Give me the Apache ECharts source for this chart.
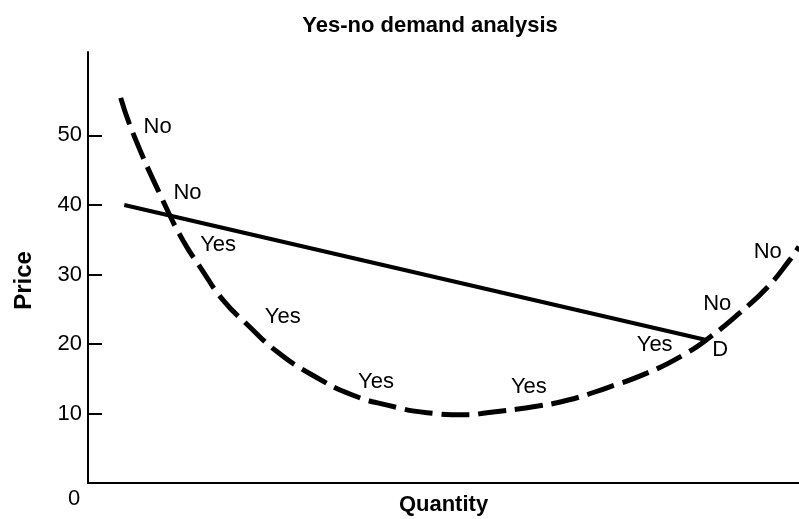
<!DOCTYPE html>
<html>
<head>
<meta charset="utf-8">
<script src="https://cdn.jsdelivr.net/npm/echarts@6/dist/echarts.min.js"></script>
<style>html,body{margin:0;padding:0;background:#fff;}#c{width:799px;height:519px;}</style>
</head>
<body>
<div id="c"></div>
<script>
var yTicks = [10, 20, 30, 40, 50];
// dashed demand curve (quantity, price)
var curveQ = [4.6, 6.3, 10.5, 13.4, 15.75, 19.0, 22.5, 26.7, 31.6, 37.1, 42.1, 47.7, 53.3, 56.1, 62.2, 67.4, 73.0, 78.6, 83.7, 87.5, 91.7, 95.6, 98.7, 100];
var curveP = [55.4, 50.4, 40.7, 34.8, 31.1, 26.3, 22.7, 18.8, 15.5, 12.7, 11.2, 10.1, 9.8, 10.1, 10.9, 11.9, 13.7, 15.8, 18.4, 21.0, 24.5, 28.2, 32.1, 34.0];
// solid line
var lineQ = [5.1, 86.8];
var lineP = [40.0, 20.6];
// annotations
var noteText = ['No', 'No', 'Yes', 'Yes', 'Yes', 'Yes', 'Yes', 'D', 'No', 'No'];
var noteQ = [9.8, 14.0, 18.3, 27.4, 40.5, 62.0, 79.7, 88.9, 88.5, 95.6];
var noteP = [51.2, 41.7, 34.2, 23.9, 14.5, 13.8, 19.9, 19.2, 25.8, 33.2];

var chart = echarts.init(document.getElementById('c'), null, {renderer: 'canvas'});
var font = 'Liberation Sans, Arial, Helvetica, sans-serif';
function pairs(a, b) { return a.map(function (v, i) { return [v, b[i]]; }); }

chart.setOption({
  animation: false,
  backgroundColor: '#fff',
  title: {
    text: 'Yes-no demand analysis',
    left: 425, top: 10, textAlign: 'center',
    textStyle: {fontFamily: font, fontSize: 22, fontWeight: 'bold', color: '#000'}
  },
  grid: {left: 88, right: 0, top: 52, bottom: 36, containLabel: false, outerBoundsMode: 'none'},
  xAxis: {
    type: 'value', min: 0, max: 100,
    name: 'Quantity', nameLocation: 'middle', nameGap: 11,
    nameTextStyle: {fontFamily: font, fontSize: 22, fontWeight: 'bold', color: '#000'},
    axisLine: {show: true, lineStyle: {color: '#000', width: 2}},
    axisTick: {show: false}, axisLabel: {show: false}, splitLine: {show: false}
  },
  yAxis: {
    type: 'value', min: 0, max: 62,
    name: 'Price', nameLocation: 'middle', nameGap: 52, nameRotate: 90,
    nameTextStyle: {fontFamily: font, fontSize: 24, fontWeight: 'bold', color: '#000', padding: [0, 26, 0, 0]},
    axisLine: {show: true, lineStyle: {color: '#000', width: 2}},
    axisTick: {show: true, inside: true, length: 14, customValues: yTicks, lineStyle: {color: '#000', width: 2}},
    axisLabel: {show: true, customValues: yTicks, margin: 6, fontFamily: font, fontSize: 22, color: '#000'},
    splitLine: {show: false}
  },
  graphic: [{
    type: 'text', left: 68, top: 488,
    style: {text: '0', font: '22px ' + font, fill: '#000'}
  }],
  series: [
    {
      type: 'line', data: pairs(curveQ, curveP), smooth: 0.5, symbol: 'none',
      lineStyle: {color: '#000', width: 5, type: [28, 9], cap: 'butt'}, z: 2
    },
    {
      type: 'line', data: pairs(lineQ, lineP), symbol: 'none',
      lineStyle: {color: '#000', width: 4}, z: 3
    },
    {
      type: 'scatter', symbolSize: 0, itemStyle: {opacity: 1},
      data: noteText.map(function (t, i) { return {name: t, value: [noteQ[i], noteP[i]]}; }),
      label: {show: true, position: 'inside', formatter: '{b}', fontFamily: font, fontSize: 22, color: '#000', opacity: 1},
      z: 4
    }
  ]
});
</script>
</body>
</html>
